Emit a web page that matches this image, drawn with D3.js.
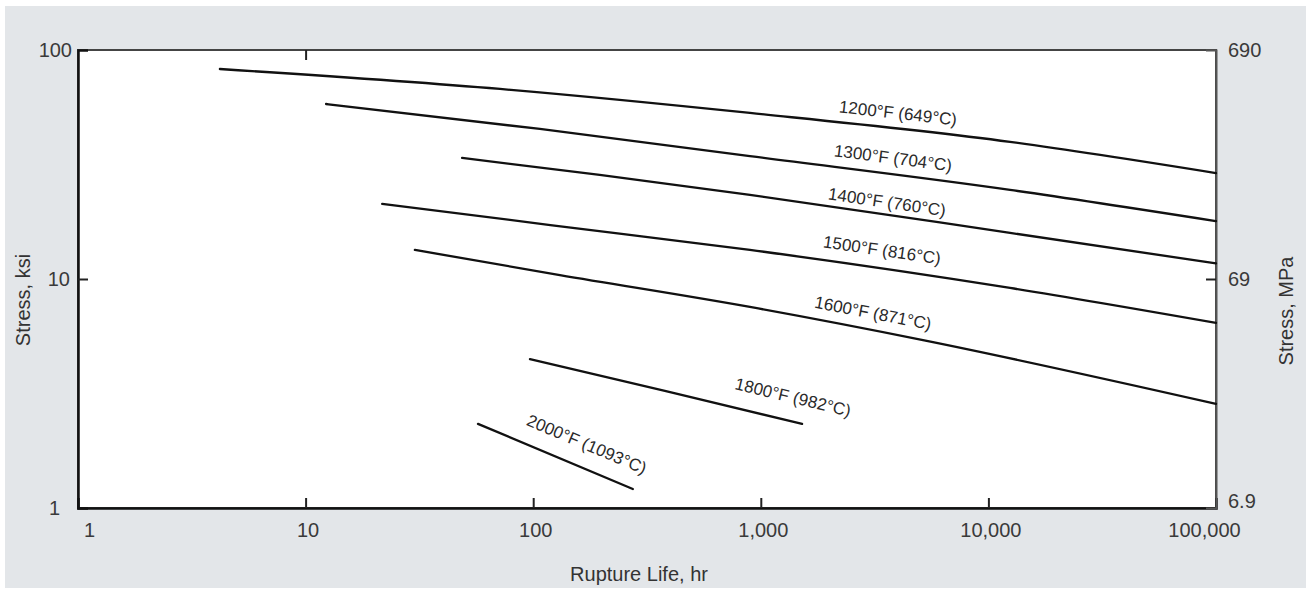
<!DOCTYPE html>
<html>
<head>
<meta charset="utf-8">
<script src="https://cdn.jsdelivr.net/npm/d3@7"></script>
<style>
  body { margin: 0; background: #fff; }
  text { font-family: "Liberation Sans", Arial, sans-serif; }
  .tick-label { font-size: 20px; fill: #3a3a3a; }
  .axis-label { font-size: 20px; fill: #333; }
  .curve-label { font-size: 17px; fill: #2a2a2a; }
</style>
</head>
<body>
<svg id="svg_1" width="1307" height="590"></svg>
<script>
// rupture life (hr) and stress (ksi)
const names = ['1200°F (649°C)', '1300°F (704°C)', '1400°F (760°C)', '1500°F (816°C)',
               '1600°F (871°C)', '1800°F (982°C)', '2000°F (1093°C)'];

const life1200 = [4.2, 71.5, 896, 12450, 100000];
const ksi1200  = [82.6, 67.6, 53.1, 39.7, 29.0];
const life1300 = [12.3, 107, 896, 12450, 100000];
const ksi1300  = [58.1, 45.2, 34.4, 24.5, 17.9];
const life1400 = [48.7, 196, 896, 12450, 100000];
const ksi1400  = [33.8, 28.5, 23.3, 15.9, 11.7];
const life1500 = [21.7, 119, 896, 12450, 100000];
const ksi1500  = [21.3, 17.2, 13.4, 9.14, 6.43];
const life1600 = [30.2, 131, 896, 5160, 100000];
const ksi1600  = [13.4, 10.4, 7.55, 5.41, 2.85];
const life1800 = [96.8, 383, 1518];
const ksi1800  = [4.47, 3.24, 2.33];
const life2000 = [57.2, 274];
const ksi2000  = [2.33, 1.21];

// where each curve label sits
const labelLife = [4007, 3810, 3585, 3408, 3112, 1385, 172];
const labelKsi  = [53.1, 33.8, 21.7, 13.4, 7.11, 3.05, 1.90];

const xTicks = [1, 10, 100, 1000, 10000, 100000];
const ksiTicks = [1, 10, 100];
const mpaTicks = [6.9, 69, 690];

const lifes = [life1200, life1300, life1400, life1500, life1600, life1800, life2000];
const ksis  = [ksi1200, ksi1300, ksi1400, ksi1500, ksi1600, ksi1800, ksi2000];
const curves = names.map((n, i) => ({
  name: n,
  pts: lifes[i].map((h, j) => ({life: h, ksi: ksis[i][j]})),
  lab: {life: labelLife[i], ksi: labelKsi[i]}
}));

const svg = d3.select('#svg_1');
const margin = ({top: 50, right: 91, bottom: 82, left: 78});
const width = +svg.attr('width');
const height = +svg.attr('height');
const innerWidth = width - margin.left - margin.right;
const innerHeight = height - margin.top - margin.bottom;

svg.append('rect')
  .attr('x', 5).attr('y', 6)
  .attr('width', 1301).attr('height', 582)
  .attr('fill', '#e3e6e9');

const x = d3.scaleLog().domain([1, 100000]).range([0, innerWidth]);
const y = d3.scaleLog().domain([1, 100]).range([innerHeight, 0]);
const yR = d3.scaleLog().domain([6.9, 690]).range([innerHeight, 0]);

const g = svg.append('g')
  .attr('transform', `translate(${margin.left},${margin.top})`);

g.append('rect')
  .attr('width', innerWidth).attr('height', innerHeight)
  .attr('fill', '#fff')
  .attr('stroke', '#444').attr('stroke-width', 2);

// inward ticks
const fmt = d3.format(',');
const bottomAxis = g.append('g')
  .attr('transform', `translate(0,${innerHeight})`)
  .call(d3.axisBottom(x).tickValues(xTicks).tickSize(-10).tickPadding(15).tickFormat(fmt));
bottomAxis.select('.domain').attr('stroke', '#111').attr('stroke-width', 2.5);
bottomAxis.selectAll('.tick line').attr('stroke', '#222').attr('stroke-width', 2)
  .filter(d => d === 1 || d === 100000).remove();
bottomAxis.selectAll('.tick text')
  .attr('class', 'tick-label').attr('fill', null).attr('font-size', null).attr('font-family', null)
  .attr('dx', d => d === 1 ? 11 : d === 100000 ? -12 : 2);

const topAxis = g.append('g')
  .call(d3.axisTop(x).tickValues([10]).tickSize(-10).tickFormat(''));
topAxis.select('.domain').remove();
topAxis.selectAll('.tick line').attr('stroke', '#222').attr('stroke-width', 2);

const leftAxis = g.append('g')
  .call(d3.axisLeft(y).tickValues(ksiTicks).tickSize(-10).tickPadding(8).tickFormat(d3.format('d')));
leftAxis.select('.domain').attr('stroke', '#111').attr('stroke-width', 2.5);
leftAxis.selectAll('.tick line').attr('stroke', '#222').attr('stroke-width', 2)
  .filter(d => d !== 10).remove();
leftAxis.selectAll('.tick text')
  .attr('class', 'tick-label').attr('fill', null).attr('font-size', null).attr('font-family', null)
  .attr('dx', d => d === 1 ? -10 : d === 100 ? 2 : 0);

const rightAxis = g.append('g')
  .attr('transform', `translate(${innerWidth},0)`)
  .call(d3.axisRight(yR).tickValues(mpaTicks).tickSize(-10).tickPadding(12).tickFormat(d => d));
rightAxis.select('.domain').attr('stroke', '#555').attr('stroke-width', 2);
rightAxis.selectAll('.tick line').attr('stroke', '#222').attr('stroke-width', 2)
  .filter(d => d !== 69).remove();
rightAxis.selectAll('.tick text')
  .attr('class', 'tick-label').attr('fill', null).attr('font-size', null).attr('font-family', null)
  .attr('dy', d => d === 6.9 ? '-0.05em' : '0.32em');

// axis titles
g.append('text')
  .attr('class', 'axis-label')
  .attr('x', innerWidth / 2 - 8)
  .attr('y', innerHeight + 73)
  .attr('text-anchor', 'middle')
  .text('Rupture Life, hr');

g.append('text')
  .attr('class', 'axis-label')
  .attr('transform', `translate(-48,${innerHeight / 2 + 21}) rotate(-90)`)
  .attr('text-anchor', 'middle')
  .text('Stress, ksi');

g.append('text')
  .attr('class', 'axis-label')
  .attr('transform', `translate(${innerWidth + 77},${innerHeight / 2 + 32}) rotate(-90)`)
  .attr('text-anchor', 'middle')
  .text('Stress, MPa');

// curves
const line = d3.line()
  .x(d => x(d.life))
  .y(d => y(d.ksi))
  .curve(d3.curveMonotoneX);

g.selectAll('.curve').data(curves)
  .enter().append('path')
    .attr('class', 'curve')
    .attr('d', d => line(d.pts))
    .attr('fill', 'none')
    .attr('stroke', '#111')
    .attr('stroke-width', 2.3)
    .attr('stroke-linecap', 'round');

// label angle follows the local slope of its curve
const slopeAngle = d => {
  const p = d.pts;
  let k = p.findIndex(q => q.life >= d.lab.life);
  if (k < 1) k = 1;
  const a = p[k - 1], b = p[k];
  return Math.atan2(y(b.ksi) - y(a.ksi), x(b.life) - x(a.life)) * 180 / Math.PI;
};

g.selectAll('.curve-label').data(curves)
  .enter().append('text')
    .attr('class', 'curve-label')
    .attr('text-anchor', 'middle')
    .attr('dy', '0.35em')
    .attr('transform', d => `translate(${x(d.lab.life)},${y(d.lab.ksi)}) rotate(${slopeAngle(d)})`)
    .text(d => d.name);
</script>
</body>
</html>
